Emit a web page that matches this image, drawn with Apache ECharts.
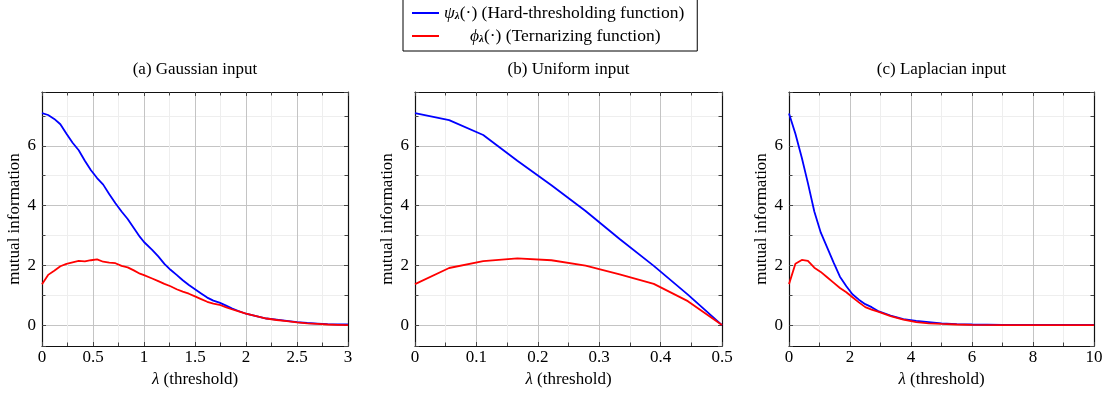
<!DOCTYPE html>
<html>
<head>
<meta charset="utf-8">
<script src="https://cdn.jsdelivr.net/npm/echarts@6/dist/echarts.min.js"></script>
<style>
html,body{margin:0;padding:0;background:#fff;}
#chart{width:1108px;height:396px;}
</style>
</head>
<body>
<div id="chart"></div>
<script>
// ---------- data ----------
const panelTitles = ['(a) Gaussian input', '(b) Uniform input', '(c) Laplacian input'];
const seriesNames = ['hard', 'tern'];
const xAxisName = '{i|λ} (threshold)';
const yAxisName = 'mutual information';

// (a) Gaussian input
const gaussLambda = [0, 0.06, 0.12, 0.18, 0.24, 0.3, 0.36, 0.42, 0.48, 0.54, 0.6, 0.66, 0.72, 0.78, 0.84, 0.9, 0.96, 1.0, 1.08, 1.14, 1.2, 1.26, 1.32, 1.38, 1.44, 1.5, 1.56, 1.62, 1.68, 1.74, 1.8, 1.86, 1.92, 2.0, 2.1, 2.2, 2.3, 2.4, 2.5, 2.6, 2.7, 2.8, 2.9, 3.0];
const gaussHard = [7.09, 7.03, 6.9, 6.72, 6.4, 6.1, 5.85, 5.5, 5.18, 4.92, 4.7, 4.38, 4.08, 3.8, 3.55, 3.25, 2.95, 2.78, 2.52, 2.3, 2.05, 1.85, 1.68, 1.5, 1.34, 1.2, 1.06, 0.92, 0.82, 0.75, 0.66, 0.56, 0.48, 0.38, 0.3, 0.22, 0.18, 0.14, 0.1, 0.07, 0.05, 0.03, 0.02, 0.02];
const gaussTern = [1.37, 1.68, 1.82, 1.97, 2.05, 2.1, 2.15, 2.13, 2.17, 2.2, 2.12, 2.09, 2.07, 1.98, 1.93, 1.83, 1.72, 1.67, 1.56, 1.47, 1.38, 1.3, 1.2, 1.12, 1.05, 0.96, 0.87, 0.78, 0.72, 0.68, 0.6, 0.53, 0.47, 0.38, 0.3, 0.22, 0.17, 0.13, 0.09, 0.06, 0.04, 0.02, 0.01, 0.0];

// (b) Uniform input
const unifLambda = [0, 0.0556, 0.1111, 0.1667, 0.2222, 0.2778, 0.3333, 0.3889, 0.4444, 0.5];
const unifHard = [7.09, 6.86, 6.36, 5.5, 4.68, 3.82, 2.88, 1.98, 1.02, 0.0];
const unifTern = [1.37, 1.91, 2.14, 2.23, 2.17, 1.99, 1.7, 1.38, 0.8, 0.0];

// (c) Laplacian input
const lapLambda = [0, 0.21, 0.42, 0.62, 0.83, 1.04, 1.25, 1.46, 1.67, 1.88, 2.08, 2.29, 2.5, 2.71, 2.92, 3.33, 3.75, 4.17, 4.58, 5.0, 5.5, 6.0, 7.0, 8.0, 9.0, 10.0];
const lapHard = [7.08, 6.4, 5.6, 4.75, 3.8, 3.1, 2.6, 2.1, 1.62, 1.3, 1.03, 0.85, 0.7, 0.6, 0.47, 0.32, 0.2, 0.14, 0.1, 0.06, 0.03, 0.02, 0.01, 0.01, 0.01, 0.01];
const lapTern = [1.37, 2.05, 2.18, 2.15, 1.92, 1.78, 1.6, 1.42, 1.24, 1.1, 0.93, 0.76, 0.6, 0.52, 0.45, 0.3, 0.18, 0.1, 0.06, 0.04, 0.02, 0.01, 0.0, 0.0, 0.0, 0.0];

// axis ranges / ticks
const xRanges = [[0, 3, 0.5], [0, 0.5, 0.1], [0, 10, 2]];
const yRange = [-0.7, 7.8];
const ySplitNumber = 4;

// ---------- layout / style ----------
const FONT = 'Liberation Serif';
const FS = 17;
const grids = [
  {left: 42, top: 92, width: 306, height: 254},
  {left: 415, top: 92, width: 307, height: 254},
  {left: 789, top: 92, width: 305, height: 254}
];
const panels = [
  {x: gaussLambda, hard: gaussHard, tern: gaussTern},
  {x: unifLambda, hard: unifHard, tern: unifTern},
  {x: lapLambda, hard: lapHard, tern: lapTern}
];
const MAJOR = '#c4c4c4', MINOR = '#eeeeee', TICK = '#444';

function zip(xs, ys) { return xs.map((x, i) => [x, ys[i]]); }

const xAxes = [], yAxes = [], series = [], titles = [];
grids.forEach((g, i) => {
  const [xmin, xmax, xint] = xRanges[i];
  titles.push({
    text: panelTitles[i], left: g.left + g.width / 2, top: 61, textAlign: 'center', padding: 0,
    textStyle: {fontFamily: FONT, fontSize: FS, fontWeight: 'normal', color: '#000'}
  });
  const tickBase = {show: true, inside: true, length: 4, lineStyle: {color: TICK}};
  const minorBase = {show: true, splitNumber: 2, length: 3.5, lineStyle: {color: TICK}};
  xAxes.push({
    type: 'value', gridIndex: i, position: 'bottom', min: xmin, max: xmax, interval: xint,
    name: xAxisName, nameLocation: 'middle', nameGap: 25,
    nameTextStyle: {fontFamily: FONT, fontSize: FS, color: '#000',
      rich: {i: {fontFamily: FONT, fontSize: FS, fontStyle: 'italic', color: '#000'}}},
    axisLine: {show: true, onZero: false, lineStyle: {color: '#111', width: 1.2}},
    axisTick: tickBase, minorTick: minorBase,
    axisLabel: {fontFamily: FONT, fontSize: FS, color: '#000', margin: 3},
    splitLine: {show: true, lineStyle: {color: MAJOR, width: 1}},
    minorSplitLine: {show: true, lineStyle: {color: MINOR, width: 1}}
  });
  xAxes.push({
    type: 'value', gridIndex: i, position: 'top', min: xmin, max: xmax, interval: xint,
    axisLine: {show: true, onZero: false, lineStyle: {color: '#111', width: 1.2}},
    axisTick: tickBase, minorTick: minorBase,
    axisLabel: {show: false}, splitLine: {show: false}, minorSplitLine: {show: false}
  });
  yAxes.push({
    type: 'value', gridIndex: i, position: 'left', min: yRange[0], max: yRange[1], splitNumber: ySplitNumber,
    name: yAxisName, nameLocation: 'middle', nameGap: 19, nameRotate: 90,
    nameTextStyle: {fontFamily: FONT, fontSize: FS, color: '#000'},
    axisLine: {show: true, onZero: false, lineStyle: {color: '#111', width: 1.2}},
    axisTick: tickBase, minorTick: minorBase,
    axisLabel: {fontFamily: FONT, fontSize: FS, color: '#000', margin: 6,
      formatter: v => (Math.abs(v - Math.round(v)) < 1e-9 ? String(Math.round(v)) : '')},
    splitLine: {show: true, lineStyle: {color: MAJOR, width: 1}},
    minorSplitLine: {show: true, lineStyle: {color: MINOR, width: 1}}
  });
  yAxes.push({
    type: 'value', gridIndex: i, position: 'right', min: yRange[0], max: yRange[1], splitNumber: ySplitNumber,
    axisLine: {show: true, onZero: false, lineStyle: {color: '#111', width: 1.2}},
    axisTick: tickBase, minorTick: minorBase,
    axisLabel: {show: false}, splitLine: {show: false}, minorSplitLine: {show: false}
  });
  const p = panels[i];
  series.push({
    name: seriesNames[0], type: 'line', xAxisIndex: 2 * i, yAxisIndex: 2 * i,
    data: zip(p.x, p.hard), symbol: 'none', smooth: false, z: 3,
    lineStyle: {color: '#0000ff', width: 1.8}, itemStyle: {color: '#0000ff'}
  });
  series.push({
    name: seriesNames[1], type: 'line', xAxisIndex: 2 * i, yAxisIndex: 2 * i,
    data: zip(p.x, p.tern), symbol: 'none', smooth: false, z: 4,
    lineStyle: {color: '#ff0000', width: 1.8}, itemStyle: {color: '#ff0000'}
  });
});

const legendText = {
  hard: '{g|ψ}{s|λ}{t|(·) (Hard-thresholding function)}',
  tern: '{p| }{g|ϕ}{s|λ}{t|(·) (Ternarizing function)}'
};
const LFS = 17.5;

const option = {
  animation: false,
  backgroundColor: '#fff',
  title: titles,
  grid: grids.map(g => Object.assign({containLabel: false}, g)),
  xAxis: xAxes,
  yAxis: yAxes,
  legend: {
    data: seriesNames, orient: 'vertical', left: 403, top: -1,
    itemWidth: 27, itemHeight: 14, itemGap: 5,
    padding: [5, 13, 6, 8],
    borderColor: '#000', borderWidth: 1, borderRadius: 0,
    backgroundColor: '#fff',
    itemStyle: {opacity: 0},
    lineStyle: {width: 2},
    formatter: name => legendText[name],
    textStyle: {
      fontFamily: FONT, fontSize: LFS, color: '#000',
      rich: {
        g: {fontFamily: FONT, fontSize: LFS, fontStyle: 'italic', color: '#000'},
        s: {fontFamily: FONT, fontSize: 11, fontStyle: 'italic', fontWeight: 'bold', color: '#000', verticalAlign: 'bottom', padding: [6, 0, 0, 0]},
        t: {fontFamily: FONT, fontSize: LFS, color: '#000'},
        p: {width: 26}
      }
    }
  },
  series: series
};

const chart = echarts.init(document.getElementById('chart'), null, {renderer: 'canvas'});
chart.setOption(option);
</script>
</body>
</html>
